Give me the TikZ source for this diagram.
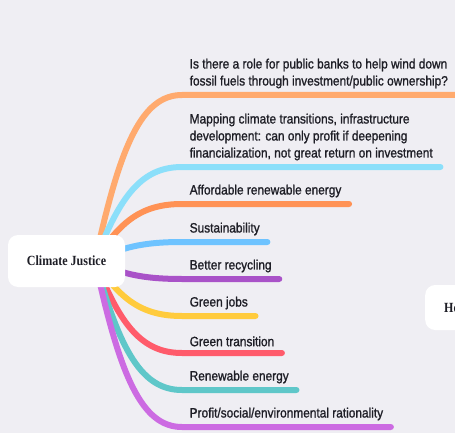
\documentclass[tikz,border=0pt]{standalone}
\usepackage{fontspec}
\usetikzlibrary{calc}

\newfontfamily\leaffont{Liberation Sans}[FakeStretch=0.88,FakeBold=1.2]
\newfontfamily\topicfont{Liberation Serif}[FakeStretch=0.86]

\definecolor{bg}{HTML}{EFEEF3}
\definecolor{ink}{HTML}{1E1E26}
\definecolor{peach}{HTML}{FFAA6E}
\definecolor{sky}{HTML}{8BDFFA}
\definecolor{tangerine}{HTML}{FF9255}
\definecolor{azure}{HTML}{6EC3FF}
\definecolor{plum}{HTML}{A952C8}
\definecolor{sun}{HTML}{FFCB3D}
\definecolor{coral}{HTML}{FF5B6B}
\definecolor{teal}{HTML}{5FC7C9}
\definecolor{orchid}{HTML}{CC6BE2}

\pgfdeclarelayer{back}
\pgfsetlayers{back,main}

\tikzset{
  topic/.style={fill=white, rounded corners=10pt, text=ink,
    font=\topicfont\bfseries\fontsize{14}{16}\selectfont},
  leaf/.style={anchor=south west, inner xsep=7.5pt, inner ysep=6.5pt,
    align=left, text=ink, font=\leaffont\fontsize{13.5}{17}\selectfont},
  branch/.style={line width=6pt, line cap=round},
}

% curve from the hub to the foot of a leaf, then along under its text
\newcommand{\branchto}[2]{%
  \draw[branch,#1] (hub)
    .. controls ($(hub)!0.7!(hub |- #2.south west)+(25,0)$)
    and ($(#2.south west)+(-40,0)$) .. (#2.south west)
    -- (#2.south east);
}

\begin{document}
\begin{tikzpicture}[x=1pt,y=-1pt]
  \useasboundingbox (0,0) rectangle (455,433);

  \node[topic, minimum width=117pt, minimum height=52pt] (root) at (66.5,261) {Climate Justice};
  \coordinate (hub) at (95,261);
  \node[topic, anchor=west, minimum height=45pt, inner xsep=19pt] (other) at (425,307.5) {He};

  \node[leaf] (banks) at (182,95) {Is there a role for public banks to help wind down\\fossil fuels through investment/public ownership?};
  \node[leaf] (mapping) at (182,167) {Mapping climate transitions, infrastructure\\development: can only profit if deepening\\financialization, not great return on investment};
  \node[leaf] (affordable) at (182,204) {Affordable renewable energy};
  \node[leaf] (sustain) at (182,242) {Sustainability};
  \node[leaf] (recycling) at (182,279) {Better recycling};
  \node[leaf] (jobs) at (182,316) {Green jobs};
  \node[leaf] (transition) at (182,353) {Green transition};
  \node[leaf] (renewable) at (182,390) {Renewable energy};
  \node[leaf] (rationality) at (182,427) {Profit/social/environmental rationality};

  \begin{pgfonlayer}{back}
    \fill[bg] (0,0) rectangle (455,433);
    \branchto{peach}{banks}
    \branchto{sky}{mapping}
    \branchto{tangerine}{affordable}
    \branchto{azure}{sustain}
    \branchto{plum}{recycling}
    \branchto{sun}{jobs}
    \branchto{coral}{transition}
    \branchto{teal}{renewable}
    \branchto{orchid}{rationality}
  \end{pgfonlayer}
\end{tikzpicture}
\end{document}
